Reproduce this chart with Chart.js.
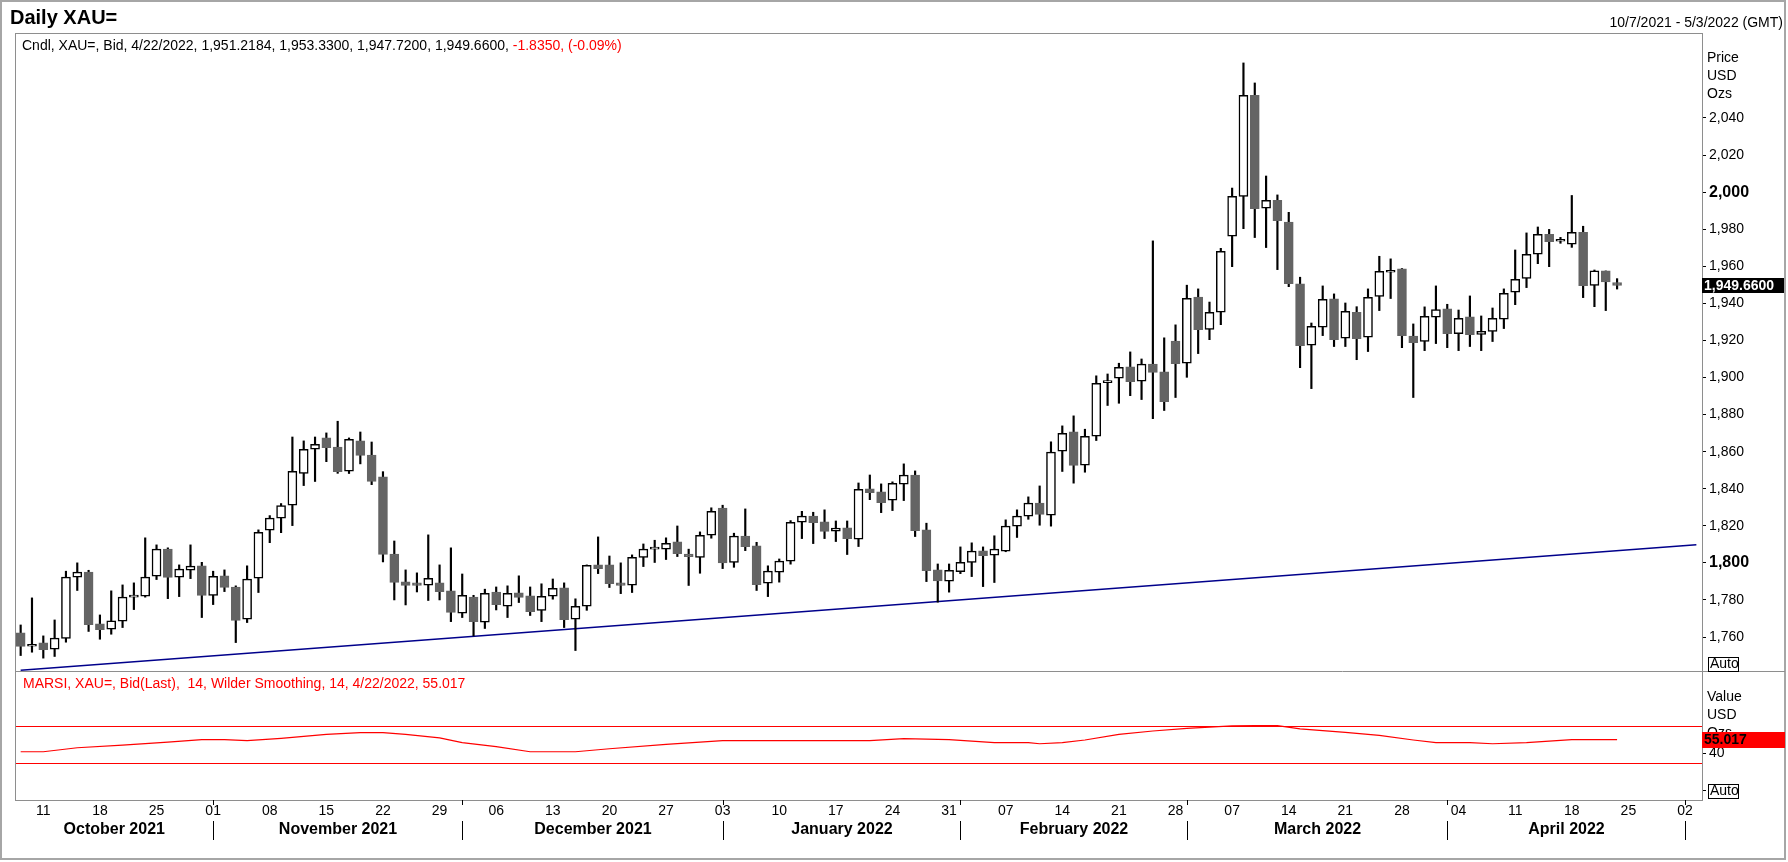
<!DOCTYPE html>
<html lang="en">
<head>
<meta charset="UTF-8">
<title>Daily XAU=</title>
<style>
  html, body { margin: 0; padding: 0; background: #fff; }
  #wrap { position: relative; width: 1788px; height: 862px; }
  canvas { position: absolute; left: 0; top: 0; }
</style>
<script src="https://cdn.jsdelivr.net/npm/chart.js"></script>
</head>
<body>
<div id="wrap"><canvas id="xau" width="1788" height="862"></canvas></div>
<script>
// trading days shown on the axis (weekdays)
const firstDay = '2021-10-07';
const lastDay = '2022-05-03';

// daily candles, 7 Oct 2021 .. 22 Apr 2022
const opens = [
  1762.2, 1755.0, 1756.8, 1753.4, 1759.2, 1792.3, 1795.0, 1767.1, 1764.2, 1768.5,
  1781.5, 1782.0, 1792.8, 1807.5, 1792.3, 1796.0, 1798.4, 1782.5, 1793.0, 1787.0,
  1769.6, 1791.7, 1817.6, 1824.1, 1831.1, 1848.3, 1861.3, 1867.4, 1862.5, 1849.4,
  1865.8, 1858.2, 1846.4, 1804.8, 1789.7, 1789.2, 1787.9, 1789.2, 1784.9, 1772.8,
  1781.6, 1768.0, 1784.3, 1776.6, 1783.8, 1782.2, 1774.4, 1782.0, 1786.5, 1769.6,
  1776.6, 1798.9, 1798.9, 1789.2, 1787.9, 1803.0, 1807.4, 1807.4, 1811.3, 1804.8,
  1803.0, 1814.9, 1829.6, 1800.2, 1814.5, 1809.2, 1789.0, 1795.0, 1800.9, 1821.9,
  1825.2, 1822.1, 1817.1, 1818.9, 1812.8, 1839.9, 1838.3, 1833.8, 1842.4, 1847.3,
  1817.8, 1796.2, 1790.1, 1795.3, 1800.3, 1806.5, 1804.1, 1806.3, 1819.8, 1825.2,
  1832.2, 1825.7, 1860.2, 1870.7, 1852.7, 1868.3, 1897.2, 1899.6, 1905.7, 1898.0,
  1907.3, 1903.0, 1919.7, 1907.7, 1943.4, 1926.0, 1935.2, 1976.2, 1997.7, 2052.2,
  1991.3, 1995.6, 1983.9, 1950.5, 1917.4, 1927.1, 1942.4, 1921.2, 1935.2, 1921.7,
  1943.8, 1956.8, 1958.6, 1922.4, 1919.5, 1932.5, 1937.0, 1923.7, 1932.7, 1923.3,
  1924.9, 1931.4, 1946.0, 1953.5, 1966.5, 1977.2, 1973.5, 1971.9, 1978.3, 1949.7,
  1957.5, 1951.2184
];
const highs = [
  1766.5, 1781.1, 1760.6, 1769.2, 1795.5, 1800.0, 1796.0, 1771.9, 1784.9, 1788.1,
  1789.2, 1813.5, 1809.7, 1808.1, 1798.9, 1809.7, 1800.3, 1795.5, 1796.2, 1787.6,
  1798.4, 1817.8, 1825.5, 1832.0, 1867.9, 1865.8, 1867.9, 1870.1, 1876.4, 1867.4,
  1870.6, 1865.2, 1849.2, 1811.8, 1796.2, 1794.6, 1815.1, 1798.9, 1808.1, 1794.0,
  1782.5, 1785.8, 1787.0, 1787.6, 1793.0, 1787.0, 1788.7, 1791.3, 1789.2, 1780.6,
  1798.9, 1814.0, 1803.7, 1800.0, 1804.3, 1810.2, 1812.2, 1813.5, 1819.9, 1807.4,
  1816.7, 1829.7, 1831.1, 1816.0, 1829.1, 1811.1, 1798.4, 1802.1, 1822.8, 1827.8,
  1827.3, 1828.6, 1822.6, 1822.6, 1843.1, 1847.4, 1842.6, 1843.7, 1853.4, 1849.6,
  1821.4, 1799.4, 1799.4, 1808.6, 1810.8, 1808.6, 1814.6, 1823.2, 1828.6, 1835.6,
  1841.5, 1865.3, 1873.9, 1879.3, 1872.1, 1900.9, 1901.9, 1907.7, 1913.8, 1910.0,
  1973.7, 1921.4, 1928.4, 1949.8, 1947.8, 1940.7, 1969.7, 2002.2, 2069.7, 2058.9,
  2008.7, 1998.5, 1989.1, 1954.1, 1929.4, 1949.4, 1945.1, 1940.2, 1938.2, 1947.8,
  1965.4, 1964.0, 1958.8, 1928.9, 1938.1, 1949.4, 1939.5, 1936.4, 1944.0, 1933.2,
  1937.5, 1947.8, 1968.8, 1978.0, 1981.2, 1979.9, 1975.6, 1998.2, 1981.6, 1958.0,
  1957.5, 1953.33
];
const lows = [
  1750.0, 1751.8, 1748.6, 1749.5, 1757.2, 1785.1, 1763.0, 1758.8, 1761.5, 1765.1,
  1774.8, 1781.5, 1791.0, 1780.7, 1781.8, 1791.5, 1770.5, 1777.5, 1784.5, 1757.0,
  1767.8, 1784.0, 1810.9, 1816.3, 1820.1, 1841.7, 1843.9, 1854.6, 1848.3, 1848.2,
  1853.4, 1842.2, 1800.5, 1780.0, 1777.3, 1784.3, 1779.7, 1780.0, 1768.3, 1770.5,
  1760.6, 1764.6, 1774.6, 1770.5, 1778.6, 1771.6, 1768.3, 1780.4, 1765.1, 1752.7,
  1774.4, 1794.2, 1786.7, 1783.4, 1784.0, 1798.0, 1800.2, 1801.8, 1803.4, 1787.8,
  1794.4, 1813.3, 1796.9, 1797.6, 1806.6, 1785.1, 1781.8, 1789.6, 1799.3, 1813.1,
  1810.4, 1813.1, 1811.5, 1804.5, 1808.8, 1834.1, 1827.1, 1828.2, 1833.6, 1814.2,
  1789.9, 1778.8, 1784.2, 1794.2, 1792.6, 1787.2, 1789.4, 1806.0, 1813.7, 1823.5,
  1820.3, 1819.8, 1849.3, 1843.0, 1848.9, 1866.0, 1884.9, 1886.1, 1890.2, 1888.1,
  1877.8, 1882.2, 1889.2, 1900.1, 1912.9, 1920.4, 1928.5, 1959.8, 1980.3, 1975.5,
  1970.1, 1958.2, 1949.0, 1905.3, 1894.0, 1922.6, 1916.7, 1916.7, 1909.6, 1914.0,
  1936.1, 1942.6, 1916.1, 1889.2, 1914.5, 1918.3, 1916.1, 1914.5, 1916.7, 1914.5,
  1919.4, 1926.4, 1939.3, 1948.5, 1961.4, 1959.8, 1972.4, 1970.2, 1943.1, 1938.2,
  1936.1, 1947.72
];
const closes = [
  1754.9, 1756.1, 1753.2, 1759.4, 1792.3, 1795.0, 1766.7, 1764.0, 1768.7, 1781.5,
  1782.5, 1792.3, 1807.4, 1792.1, 1796.6, 1798.2, 1782.4, 1792.8, 1786.7, 1768.9,
  1791.2, 1816.5, 1824.1, 1830.9, 1849.4, 1861.3, 1864.0, 1862.2, 1849.2, 1866.7,
  1857.9, 1843.9, 1804.5, 1789.4, 1787.8, 1787.8, 1791.7, 1784.5, 1773.2, 1782.5,
  1768.3, 1783.6, 1777.5, 1783.6, 1781.3, 1773.7, 1782.0, 1786.3, 1769.4, 1776.6,
  1798.7, 1796.9, 1788.8, 1787.8, 1803.0, 1807.4, 1808.1, 1810.6, 1805.0, 1803.4,
  1814.9, 1827.8, 1800.0, 1814.4, 1808.8, 1788.3, 1795.5, 1800.9, 1821.9, 1825.2,
  1821.7, 1816.9, 1818.7, 1813.1, 1839.7, 1837.9, 1832.5, 1842.9, 1847.3, 1817.4,
  1795.8, 1790.3, 1796.0, 1800.3, 1806.3, 1803.9, 1807.4, 1819.8, 1825.2, 1832.2,
  1826.1, 1859.7, 1869.9, 1852.5, 1868.3, 1896.9, 1897.5, 1905.5, 1897.8, 1907.2,
  1902.7, 1887.0, 1907.5, 1942.7, 1925.8, 1935.2, 1968.1, 1997.7, 2052.2, 1991.1,
  1995.6, 1984.6, 1950.6, 1917.2, 1927.6, 1942.2, 1920.4, 1935.7, 1921.0, 1943.3,
  1957.3, 1957.5, 1922.6, 1918.8, 1933.0, 1936.7, 1923.7, 1931.9, 1923.1, 1924.9,
  1931.9, 1945.4, 1953.0, 1966.5, 1977.2, 1973.3, 1974.0, 1978.3, 1949.6, 1957.5,
  1951.5, 1949.66
];

// trend line drawn on the chart
const trendDays = ['2021-10-07', '2022-05-03'];
const trendValues = [1742.1, 1809.8];

// MARSI(14) line, read at its turning points
const rsiDays = [
  '2021-10-07', '2021-10-11', '2021-10-14', '2021-10-20', '2021-10-26', '2021-10-29', '2021-11-02', '2021-11-04',
  '2021-11-09', '2021-11-15', '2021-11-18', '2021-11-22', '2021-11-24', '2021-11-29', '2021-12-01', '2021-12-06',
  '2021-12-09', '2021-12-15', '2021-12-20', '2021-12-27', '2022-01-03', '2022-01-20', '2022-01-25', '2022-01-31',
  '2022-02-04', '2022-02-09', '2022-02-10', '2022-02-14', '2022-02-16', '2022-02-21', '2022-02-24', '2022-03-01',
  '2022-03-07', '2022-03-09', '2022-03-11', '2022-03-15', '2022-03-21', '2022-03-24', '2022-03-29', '2022-03-31',
  '2022-04-05', '2022-04-07', '2022-04-12', '2022-04-18', '2022-04-22'
];
const rsiValues = [
  41.9, 41.9, 46.2, 49.1, 52.3, 54.9, 54.9, 53.8,
  56.3, 60.6, 62.4, 62.4, 60.6, 56.7, 51.6, 47.3,
  41.9, 41.9, 45.1, 49.8, 53.8, 53.8, 55.9, 54.9,
  51.6, 51.6, 50.5, 51.6, 54.5, 60.6, 64.2, 67.1,
  69.6, 70.0, 70.0, 66.4, 62.8, 59.5, 54.5, 51.6,
  51.6, 50.5, 51.6, 54.9, 55.017
];
const rsiBands = [70, 30];

const priceTicks = [1760, 1780, 1800, 1820, 1840, 1860, 1880, 1900, 1920, 1940, 1960, 1980, 2000, 2020, 2040];
const rsiTicks = [0, 40];

const months = ['October 2021', 'November 2021', 'December 2021', 'January 2022', 'February 2022', 'March 2022', 'April 2022'];
const monthStarts = ['2021-11-01', '2021-12-01', '2022-01-03', '2022-02-01', '2022-03-01', '2022-04-01', '2022-05-02'];

const FONT = '"Liberation Sans", Arial, sans-serif';
Chart.defaults.font.family = FONT;
Chart.defaults.color = '#000';

const days = [];
for (let d = new Date(firstDay + 'T12:00:00Z'); d <= new Date(lastDay + 'T12:00:00Z'); d.setUTCDate(d.getUTCDate() + 1)) {
  const wd = d.getUTCDay();
  if (wd !== 0 && wd !== 6) days.push(d.toISOString().slice(0, 10));
}
const isMonday = s => new Date(s + 'T12:00:00Z').getUTCDay() === 1;

const up = closes.map((c, i) => c >= opens[i]);
const DOWN = '#646464';

function hline(ctx, x1, x2, y) {
  ctx.beginPath(); ctx.moveTo(x1, y); ctx.lineTo(x2, y); ctx.stroke();
}
function vline(ctx, x, y1, y2) {
  ctx.beginPath(); ctx.moveTo(x, y1); ctx.lineTo(x, y2); ctx.stroke();
}

const decor = {
  id: 'decor',
  beforeDatasetsDraw(chart) {
    const { ctx, chartArea: a, scales } = chart;
    ctx.save();
    ctx.strokeStyle = '#ff0000';
    ctx.lineWidth = 1.2;
    rsiBands.forEach(v => hline(ctx, a.left, a.right, Math.round(scales.rsi.getPixelForValue(v)) + 0.5));
    ctx.restore();
  },
  afterDraw(chart) {
    const { ctx, chartArea: a, scales } = chart;
    const x = scales.x, y = scales.y, r = scales.rsi;
    ctx.save();

    // frames
    ctx.strokeStyle = '#a6a6a6';
    ctx.lineWidth = 2;
    ctx.strokeRect(1, 1, 1784, 858);
    ctx.strokeStyle = '#8e8e8e';
    ctx.lineWidth = 1;
    ctx.strokeRect(a.left + 0.5, a.top + 0.5, a.right - a.left, a.bottom - a.top);
    hline(ctx, a.left, 1785, Math.round(y.bottom) + 0.5);

    // header texts
    ctx.fillStyle = '#000';
    ctx.textBaseline = 'alphabetic';
    ctx.font = 'bold 20px ' + FONT;
    ctx.textAlign = 'left';
    ctx.fillText('Daily XAU=', 10, 24);
    ctx.font = '14px ' + FONT;
    ctx.textAlign = 'right';
    ctx.fillText('10/7/2021 - 5/3/2022 (GMT)', 1783, 27);

    ctx.textAlign = 'left';
    ctx.font = '14px ' + FONT;
    const head = 'Cndl, XAU=, Bid, 4/22/2022, 1,951.2184, 1,953.3300, 1,947.7200, 1,949.6600, ';
    ctx.fillText(head, 22, 50);
    ctx.fillStyle = '#ff0000';
    ctx.fillText('-1.8350, (-0.09%)', 22 + ctx.measureText(head).width, 50);
    ctx.fillText('MARSI, XAU=, Bid(Last),  14, Wilder Smoothing, 14, 4/22/2022, 55.017', 23, 688);

    // axis captions
    ctx.fillStyle = '#000';
    ctx.font = '14px ' + FONT;
    ctx.textBaseline = 'middle';
    ['Price', 'USD', 'Ozs'].forEach((t, i) => ctx.fillText(t, 1707, 58 + i * 18));
    ['Value', 'USD', 'Ozs'].forEach((t, i) => ctx.fillText(t, 1707, 697 + i * 18));

    // Auto boxes
    [y.bottom - 7.5, r.bottom - 9.5].forEach(cy => {
      ctx.strokeStyle = '#000';
      ctx.strokeRect(1708.5, Math.round(cy - 7) + 0.5, 30, 14);
      ctx.fillText('Auto', 1710, Math.round(cy) + 0.5);
    });

    // last value labels
    const last = closes.length - 1;
    const py = y.getPixelForValue(closes[last]);
    ctx.fillStyle = '#000';
    ctx.fillRect(1702, Math.round(py - 7), 82, 15);
    ctx.fillStyle = '#fff';
    ctx.font = 'bold 14px ' + FONT;
    ctx.fillText(closes[last].toLocaleString('en-US', { minimumFractionDigits: 4 }), 1704, py + 0.5);

    const rv = rsiValues[rsiValues.length - 1];
    const ry = r.getPixelForValue(rv);
    ctx.fillStyle = '#ff0000';
    ctx.fillRect(1702, Math.round(ry - 8), 83, 16);
    ctx.fillStyle = '#000';
    ctx.fillText(rv.toFixed(3), 1704, ry + 0.5);

    // month row
    const seps = monthStarts.map(m => Math.round(x.getPixelForValue(days.indexOf(m))) + 0.5);
    ctx.strokeStyle = '#000';
    ctx.lineWidth = 1;
    seps.forEach(sx => {
      vline(ctx, sx, 821, 840);
      vline(ctx, sx, a.bottom, a.bottom + 5);
    });
    ctx.font = 'bold 16px ' + FONT;
    ctx.textAlign = 'center';
    const edges = [a.left].concat(seps);
    months.forEach((m, i) => ctx.fillText(m, (edges[i] + edges[i + 1]) / 2, 830));

    ctx.restore();
  }
};

new Chart(document.getElementById('xau'), {
  data: {
    labels: days,
    datasets: [
      {
        type: 'line',
        label: 'Trend',
        data: trendDays.map((d, i) => ({ x: d, y: trendValues[i] })),
        borderColor: '#00008b',
        borderWidth: 1.5,
        pointRadius: 0,
        yAxisID: 'y',
        order: 3
      },
      {
        type: 'bar',
        label: 'Wick',
        data: lows.map((l, i) => [l, highs[i]]),
        backgroundColor: '#000',
        barThickness: 1.5,
        grouped: false,
        yAxisID: 'y',
        order: 2
      },
      {
        type: 'bar',
        label: 'Body',
        data: opens.map((o, i) => [o, closes[i]]),
        backgroundColor: up.map(u => u ? '#ffffff' : DOWN),
        borderColor: up.map(u => u ? '#000000' : DOWN),
        borderWidth: 1.5,
        borderSkipped: false,
        barThickness: 9,
        minBarLength: 2,
        grouped: false,
        yAxisID: 'y',
        order: 1
      },
      {
        type: 'line',
        label: 'MARSI',
        data: rsiDays.map((d, i) => ({ x: d, y: rsiValues[i] })),
        borderColor: '#ff0000',
        borderWidth: 1.2,
        pointRadius: 0,
        yAxisID: 'rsi',
        order: 0
      }
    ]
  },
  options: {
    responsive: false,
    animation: false,
    events: [],
    layout: { padding: { left: 15, top: 33, right: 0, bottom: 0 } },
    plugins: { legend: { display: false }, tooltip: { enabled: false } },
    scales: {
      x: {
        type: 'category',
        offset: true,
        grid: { display: false },
        border: { display: false },
        ticks: {
          autoSkip: false,
          maxRotation: 0,
          minRotation: 0,
          padding: -5,
          font: { size: 14 },
          callback: (v, i) => isMonday(days[i]) ? days[i].slice(8) : ''
        },
        afterFit: s => { s.height = 62; }
      },
      y: {
        type: 'linear',
        position: 'right',
        stack: 'panes',
        stackWeight: 638,
        min: 1741.66,
        max: 2085.85,
        afterBuildTicks: s => { s.ticks = priceTicks.map(v => ({ value: v })); },
        ticks: {
          padding: 3,
          callback: v => v.toLocaleString('en-US'),
          font: c => (c.tick && c.tick.value % 200 === 0) ? { size: 16, weight: 'bold' } : { size: 14, weight: 'normal' }
        },
        grid: { drawOnChartArea: false, tickLength: 4, color: '#000' },
        border: { display: false },
        afterFit: s => { s.width = 86; }
      },
      rsi: {
        type: 'linear',
        position: 'right',
        stack: 'panes',
        stackWeight: 129,
        min: -10,
        max: 128.7,
        afterBuildTicks: s => { s.ticks = rsiTicks.map(v => ({ value: v })); },
        ticks: {
          padding: 3,
          font: { size: 14 },
          callback: v => v === 0 ? '' : String(v)
        },
        grid: { drawOnChartArea: false, tickLength: 4, color: '#000' },
        border: { display: false },
        afterFit: s => { s.width = 86; }
      }
    }
  },
  plugins: [decor]
});
</script>
</body>
</html>
